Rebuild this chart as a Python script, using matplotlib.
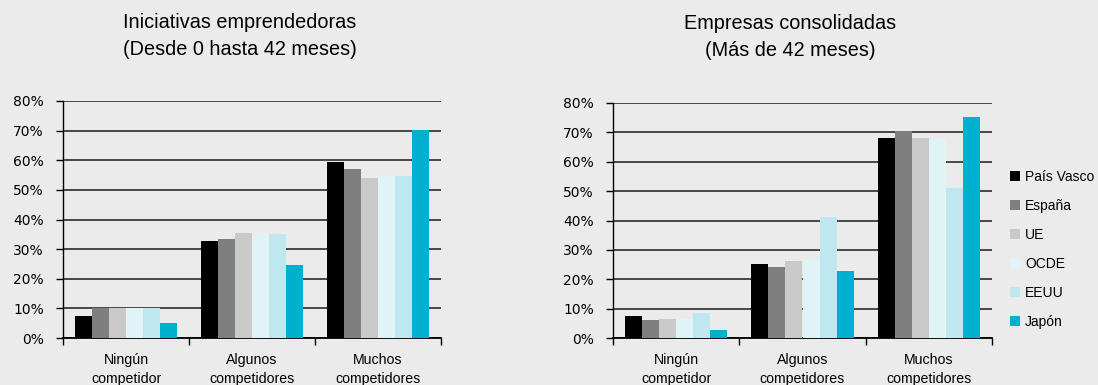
import matplotlib
matplotlib.use("Agg")
import matplotlib.pyplot as plt
import numpy as np
from matplotlib.ticker import PercentFormatter

plt.rcParams['font.family'] = ['Liberation Sans', 'DejaVu Sans']

categories = ["Ningún\ncompetidor", "Algunos\ncompetidores", "Muchos\ncompetidores"]
series = ["País Vasco", "España", "UE", "OCDE", "EEUU", "Japón"]
colors = ["#000000", "#7f7f7f", "#c9c9c9", "#e0f3f7", "#bfe7ef", "#00b0d1"]

left_title = "Iniciativas emprendedoras\n(Desde 0 hasta 42 meses)"
right_title = "Empresas consolidadas\n(Más de 42 meses)"

# values in %, per series, across categories
left_pais_vasco = [7.5, 32.8, 59.4]
left_espana = [10.1, 33.5, 57.1]
left_ue = [10.1, 35.5, 54.0]
left_ocde = [10.1, 35.2, 54.7]
left_eeuu = [10.1, 35.2, 54.7]
left_japon = [5.2, 24.8, 70.2]

right_pais_vasco = [7.4, 25.1, 68.0]
right_espana = [6.0, 24.1, 70.4]
right_ue = [6.4, 26.1, 68.0]
right_ocde = [6.4, 26.4, 67.7]
right_eeuu = [8.4, 41.1, 51.0]
right_japon = [2.6, 22.7, 75.1]

left_data = [left_pais_vasco, left_espana, left_ue, left_ocde, left_eeuu, left_japon]
right_data = [right_pais_vasco, right_espana, right_ue, right_ocde, right_eeuu, right_japon]

bg = "#ebebeb"
W, H = 1098, 385
fig = plt.figure(figsize=(W / 100, H / 100), dpi=100, facecolor=bg)

ax1 = fig.add_axes([63/W, 1-338/H, (441-63)/W, (338-101)/H])
ax2 = fig.add_axes([613/W, 1-338/H, (992-613)/W, (338-103)/H])

def draw(ax, data, legend=False):
    ax.set_facecolor(bg)
    n = len(series)
    width = 0.81 / n
    x = np.arange(len(categories))
    for i, (vals, c, name) in enumerate(zip(data, colors, series)):
        ax.bar(x - 0.405 + width * (i + 0.5), vals, width, color=c, label=name, zorder=3)
    ax.set_xlim(-0.5, len(categories) - 0.5)
    ax.set_ylim(0, 80)
    ax.set_yticks(np.arange(0, 81, 10))
    ax.yaxis.set_major_formatter(PercentFormatter(decimals=0))
    ax.grid(axis='y', color='#3a3a3a', linewidth=1.3, zorder=0)
    ax.set_axisbelow(True)
    for s in ['top', 'right']:
        ax.spines[s].set_visible(False)
    ax.spines['left'].set_color('black')
    ax.spines['bottom'].set_color('black')
    ax.spines['left'].set_linewidth(1.0)
    ax.spines['bottom'].set_linewidth(1.3)
    ax.tick_params(axis='y', length=5, width=1, color='black', pad=8.8,
                   labelsize=10, labelfontfamily='DejaVu Sans')
    ax.set_xticks(np.arange(-0.5, len(categories), 1.0))
    ax.set_xticklabels([])
    ax.set_xticks(x, minor=True)
    ax.set_xticklabels(categories, minor=True, fontsize=10.2, linespacing=1.4)
    ax.tick_params(axis='x', which='major', length=5, width=1, color='black')
    ax.tick_params(axis='x', which='minor', length=0, pad=11)
    if legend:
        ax.legend(loc='upper left', bbox_to_anchor=(1010/W, 1-170/H),
                  bbox_transform=fig.transFigure, frameon=False,
                  fontsize=10, handlelength=0.7, handleheight=0.7,
                  handletextpad=0.4, labelspacing=1.08, borderaxespad=0, borderpad=0)

draw(ax1, left_data)
draw(ax2, right_data, legend=True)

fig.text(240/W, 1-36/H, left_title, ha='center', va='center', fontsize=14.3, linespacing=1.55)
fig.text(790/W, 1-37/H, right_title, ha='center', va='center', fontsize=14.3, linespacing=1.55)

fig.savefig("out.png", dpi=100, facecolor=bg)
